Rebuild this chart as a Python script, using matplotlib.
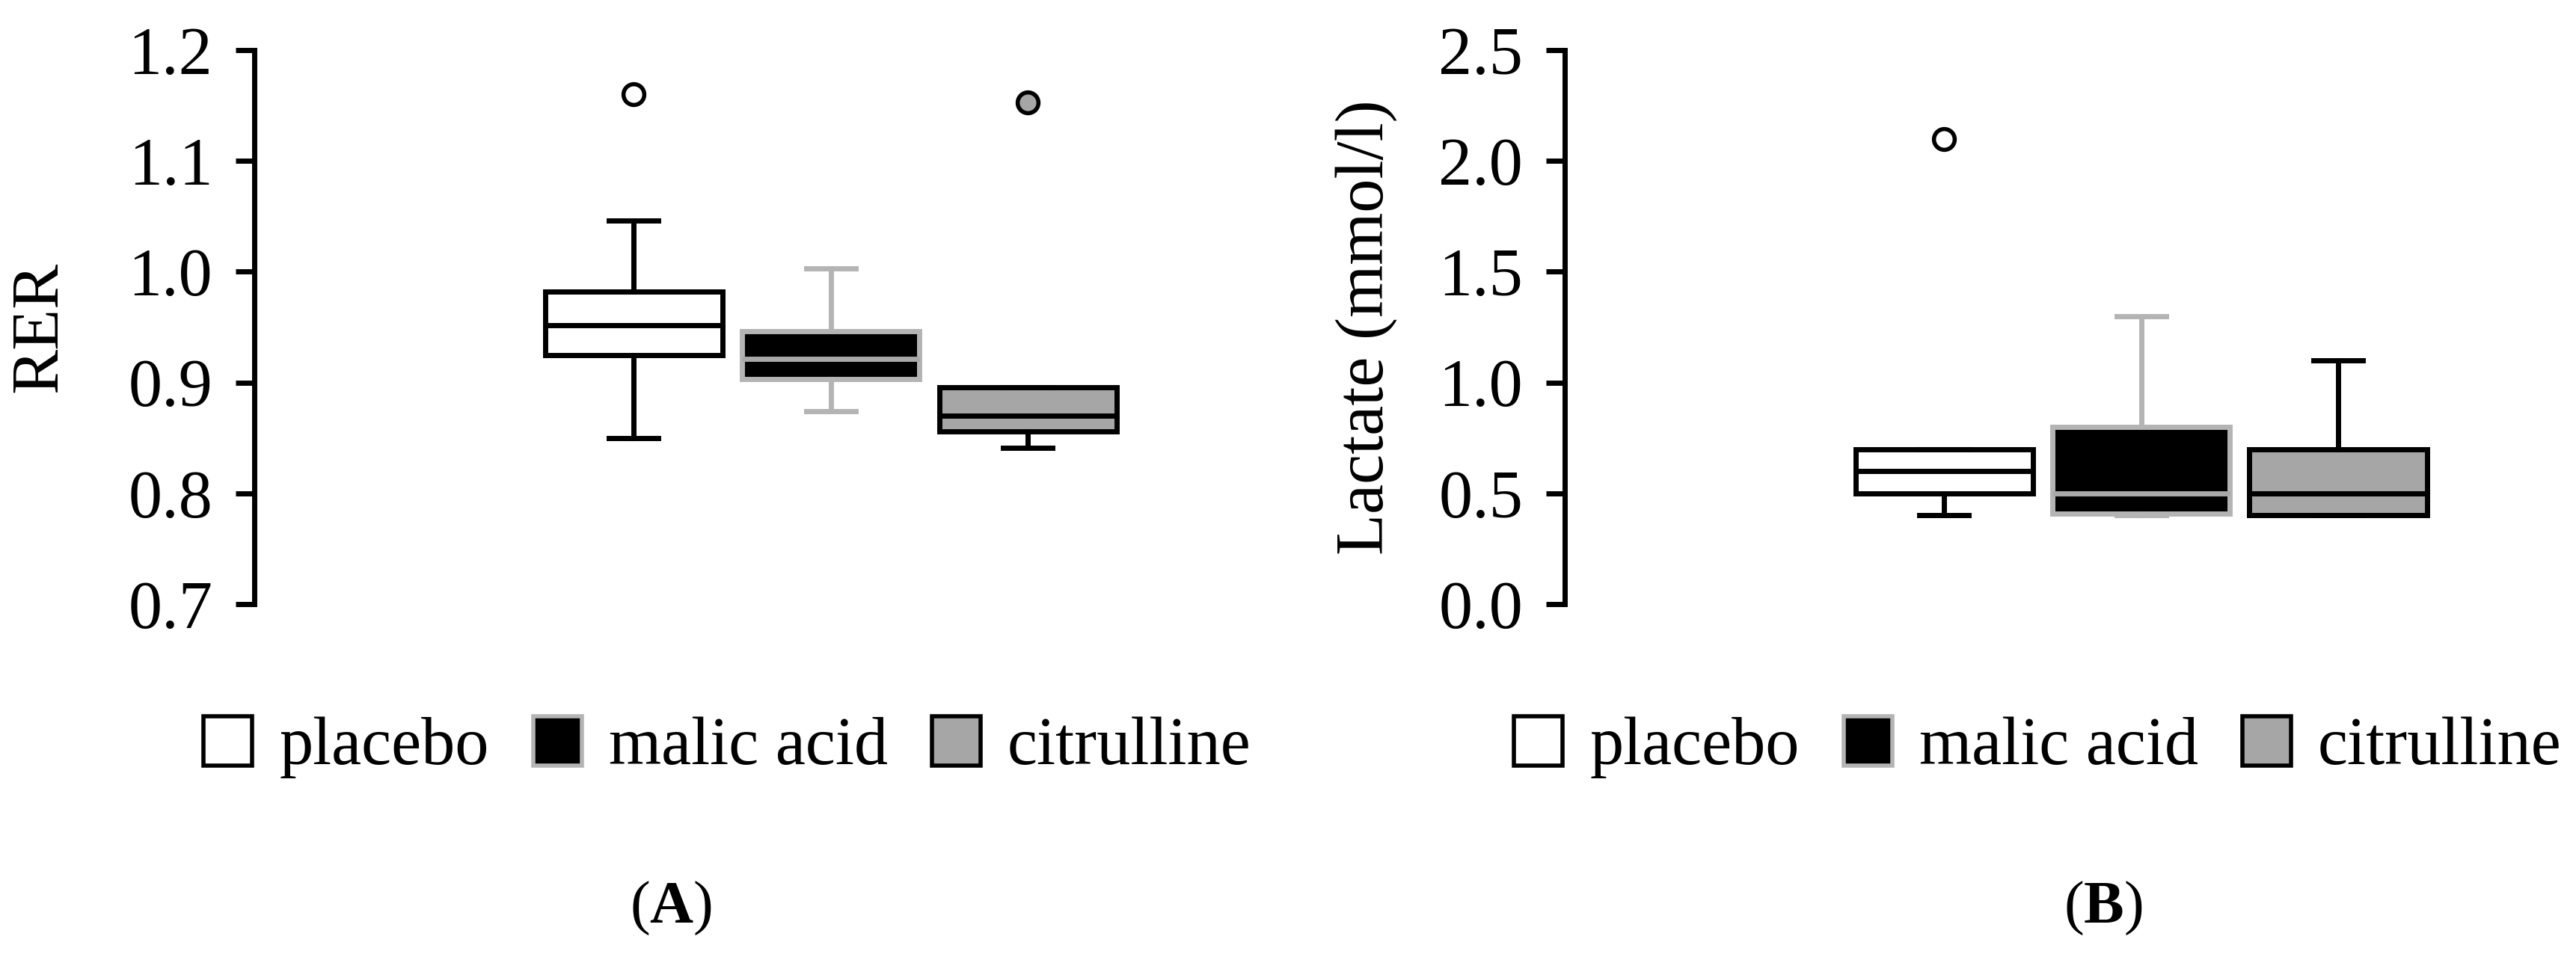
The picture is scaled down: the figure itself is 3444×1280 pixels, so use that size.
import matplotlib.pyplot as plt
from matplotlib.patches import Patch

plt.rcParams['font.family'] = ['Liberation Serif', 'DejaVu Serif']
plt.rcParams['mathtext.fontset'] = 'custom'
plt.rcParams['mathtext.rm'] = 'Liberation Serif'
plt.rcParams['mathtext.bf'] = 'Liberation Serif:bold'

# groups
groups = ['placebo', 'malic acid', 'citrulline']

# RER (panel A): whisker low, Q1, median, Q3, whisker high, outliers
rer_whislo = [0.850, 0.874, 0.841]
rer_q1 = [0.925, 0.903, 0.856]
rer_med = [0.952, 0.921, 0.870]
rer_q3 = [0.982, 0.946, 0.896]
rer_whishi = [1.046, 1.003, 0.896]
rer_fliers = [[1.160], [], [1.153]]

# Lactate (panel B)
lac_whislo = [0.40, 0.40, 0.40]
lac_q1 = [0.50, 0.41, 0.40]
lac_med = [0.60, 0.50, 0.50]
lac_q3 = [0.70, 0.80, 0.70]
lac_whishi = [0.70, 1.30, 1.10]
lac_fliers = [[2.10], [], []]

fills = ['white', 'black', '#a6a6a6']
edges = ['black', '#b4b4b4', 'black']
medcols = ['black', '#a8a8a8', 'black']
whiskcols = ['black', '#b4b4b4', 'black']

lw = 5
fs = 65


def draw(ax, whislo, q1, med, q3, whishi, fliers, ylim, yticks, ylabel, labelx):
    stats = []
    for i in range(len(groups)):
        stats.append(dict(whislo=whislo[i], q1=q1[i], med=med[i], q3=q3[i],
                          whishi=whishi[i], fliers=fliers[i], label=groups[i]))
    bp = ax.bxp(stats, positions=[1, 2, 3], widths=0.9, capwidths=0.25,
                patch_artist=True, showfliers=True)
    for i in range(3):
        bp['boxes'][i].set(facecolor=fills[i], edgecolor=edges[i], linewidth=lw)
        bp['medians'][i].set(color=medcols[i], linewidth=lw)
        for j in (2 * i, 2 * i + 1):
            bp['whiskers'][j].set(color=whiskcols[i], linewidth=lw)
            bp['caps'][j].set(color=whiskcols[i], linewidth=lw)
        bp['fliers'][i].set(marker='o', markersize=20, markerfacecolor=fills[i],
                            markeredgecolor='black', markeredgewidth=4)
    ax.set_xlim(-0.925, 3.876)
    ax.set_ylim(*ylim)
    ax.set_yticks(yticks)
    ax.set_yticklabels([f'{v:.1f}' for v in yticks])
    ax.tick_params(axis='y', labelsize=fs, length=18, width=lw, pad=22)
    ax.set_xticks([])
    for s in ['top', 'right', 'bottom']:
        ax.spines[s].set_visible(False)
    ax.spines['left'].set_linewidth(lw)
    ax.set_ylabel(ylabel, fontsize=fs)
    ax.yaxis.set_label_coords(labelx, 0.5)
    handles = [Patch(facecolor=fills[i], edgecolor=edges[i], linewidth=4,
                     label=groups[i]) for i in range(3)]
    ax.legend(handles=handles, loc='center', bbox_to_anchor=(0.5, -0.2585),
              ncol=3, frameon=False, fontsize=fs, handlelength=0.72,
              handleheight=0.75, handletextpad=0.4, columnspacing=0.65,
              borderaxespad=0, borderpad=0)


fig = plt.figure(figsize=(34.44, 12.8), dpi=100)
axA = fig.add_axes([0.0987, 0.3687, 0.3673, 0.579])
axB = fig.add_axes([0.6074, 0.3687, 0.3673, 0.579])

draw(axA, rer_whislo, rer_q1, rer_med, rer_q3, rer_whishi, rer_fliers,
     (0.7, 1.2), [0.7, 0.8, 0.9, 1.0, 1.1, 1.2], 'RER', -0.193)
draw(axB, lac_whislo, lac_q1, lac_med, lac_q3, lac_whishi, lac_fliers,
     (0.0, 2.5), [0.0, 0.5, 1.0, 1.5, 2.0, 2.5], 'Lactate (mmol/l)', -0.177)

fig.text(0.2605, 0.0508, r'($\mathbf{A}$)', fontsize=58, ha='center', va='center')
fig.text(0.8165, 0.0508, r'($\mathbf{B}$)', fontsize=58, ha='center', va='center')

fig.savefig('out.png', dpi=100)
